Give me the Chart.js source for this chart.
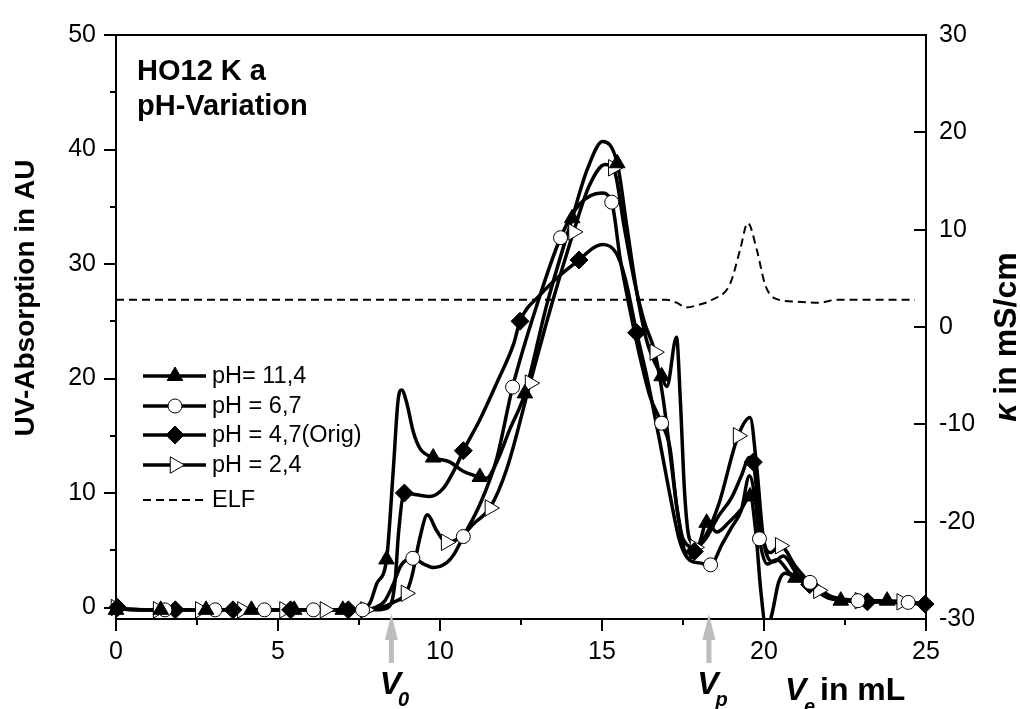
<!DOCTYPE html>
<html>
<head>
<meta charset="utf-8">
<title>HO12 K a pH-Variation</title>
<script src="https://cdn.jsdelivr.net/npm/chart.js@4/dist/chart.umd.min.js"></script>
<style>
    html, body { margin: 0; padding: 0; background: #fff; }
    #wrap { width: 1020px; height: 709px; position: relative; }
</style>
</head>
<body>
<div id="wrap"><canvas id="elutionChart" width="1020" height="709"></canvas></div>
<script>
// Elution profiles (UV absorption, left axis) and conductivity (ELF, right axis).
const xTicks = [0, 5, 10, 15, 20, 25];
const yTicks = [0, 10, 20, 30, 40, 50];
const y2Ticks = [-30, -20, -10, 0, 10, 20, 30];

const seriesLabels = ['pH= 11,4', 'pH = 6,7', 'pH = 4,7(Orig)', 'pH = 2,4'];
const elfLabel = 'ELF';

// [Ve in mL, UV-absorption in AU]
const ph114Curve = [[0, 0.2], [0.3, -0.15], [1.38, -0.2], [2.78, -0.2], [4.18, -0.2], [5.5, -0.2], [7.0, -0.2],
    [7.6, -0.1], [7.84, 0.4], [8.05, 2.1], [8.35, 4.2], [8.56, 12.1], [8.71, 18.2], [8.82, 19.0], [8.97, 17.9],
    [9.18, 15.3], [9.38, 13.9], [9.79, 13.1], [10.31, 12.7], [10.72, 11.9], [11.23, 11.4], [11.44, 11.3],
    [11.75, 12.7], [12.16, 15.6], [12.62, 18.7], [13.3, 26.5], [14.08, 34.0], [14.55, 38.3], [15.02, 40.7],
    [15.47, 38.8], [15.76, 33.4], [16.07, 27.6], [16.38, 23.3], [16.84, 20.2], [17.0, 19.3], [17.3, 23.6],
    [17.42, 18.0], [17.55, 10.0], [17.7, 6.0], [17.95, 5.4], [18.23, 7.4], [18.55, 6.6], [18.9, 7.4],
    [19.3, 8.6], [19.57, 9.7], [19.75, 6.5], [19.9, 1.5], [20.08, -2.0], [20.25, -0.5], [20.45, 2.2],
    [20.65, 3.0], [20.97, 2.6], [21.5, 1.7], [22.37, 0.6], [23.8, 0.6], [25, 0.3]];
const ph114Markers = [[0, -0.2], [1.38, -0.2], [2.78, -0.2], [4.18, -0.2], [5.5, -0.2], [7.0, -0.2], [8.35, 4.2],
    [9.79, 13.1], [11.23, 11.4], [12.62, 18.7], [14.08, 34.0], [15.47, 38.8], [16.84, 20.2], [18.23, 7.4],
    [19.57, 9.7], [20.97, 2.6], [22.37, 0.6], [23.8, 0.6]];

const ph67Curve = [[0, 0.2], [0.3, -0.15], [1.51, -0.2], [3.06, -0.2], [4.58, -0.2], [6.09, -0.2], [7.61, -0.2],
    [8.0, 0.0], [8.3, 0.6], [8.55, 2.0], [8.8, 3.7], [9.16, 4.3], [9.5, 3.8], [9.8, 3.5], [10.2, 3.9],
    [10.42, 4.6], [10.72, 6.2], [11.23, 9.0], [11.75, 13.0], [12.24, 19.25], [13.0, 26.5], [13.72, 32.3],
    [14.3, 35.2], [14.99, 36.2], [15.3, 35.4], [15.56, 30.5], [15.87, 25.9], [16.17, 21.9], [16.48, 18.45],
    [16.84, 16.1], [17.1, 13.9], [17.31, 8.7], [17.62, 4.4], [18.0, 3.9], [18.35, 3.73], [18.7, 5.5],
    [19.0, 7.0], [19.3, 8.5], [19.55, 11.5], [19.75, 9.0], [19.86, 6.0], [20.1, 3.8], [20.4, 4.2],
    [20.8, 3.0], [21.42, 2.2], [22.2, 0.8], [22.9, 0.6], [24.45, 0.45], [25, 0.3]];
const ph67Markers = [[1.51, -0.2], [3.06, -0.2], [4.58, -0.2], [6.09, -0.2], [7.61, -0.2], [9.16, 4.3],
    [10.72, 6.2], [12.24, 19.25], [13.72, 32.3], [15.3, 35.4], [16.84, 16.1], [18.35, 3.73], [19.86, 6.0],
    [21.42, 2.2], [22.9, 0.6], [24.45, 0.45]];

const ph47Curve = [[0, 0.15], [0.3, -0.15], [1.83, -0.2], [3.61, -0.2], [5.39, -0.2], [7.17, -0.2], [8.0, -0.2],
    [8.3, -0.1], [8.5, 0.4], [8.62, 2.5], [8.72, 6.5], [8.9, 10.0], [9.28, 9.85], [9.69, 9.7], [10.1, 10.4],
    [10.51, 12.4], [10.72, 13.7], [11.23, 16.4], [11.75, 19.6], [12.27, 23.0], [12.47, 25.0], [13.09, 27.3],
    [13.7, 29.0], [14.29, 30.35], [14.73, 31.4], [15.02, 31.7], [15.45, 30.9], [15.71, 28.8], [16.07, 24.0],
    [16.38, 20.2], [16.63, 16.7], [16.79, 14.4], [17.1, 9.8], [17.4, 5.8], [17.7, 4.3], [17.85, 4.9],
    [18.2, 6.0], [18.6, 8.0], [19.0, 9.6], [19.3, 11.5], [19.55, 13.1], [19.67, 12.7], [19.85, 8.0],
    [20.1, 4.5], [20.3, 4.0], [20.6, 4.5], [21.0, 3.0], [21.41, 2.0], [22.0, 0.8], [23.19, 0.5], [24.97, 0.3]];
const ph47Markers = [[0.05, 0.0], [1.83, -0.2], [3.61, -0.2], [5.39, -0.2], [7.17, -0.2], [8.9, 10.0],
    [10.72, 13.7], [12.47, 25.0], [14.29, 30.35], [16.07, 24.0], [17.85, 4.9], [19.67, 12.7], [21.41, 2.0],
    [23.19, 0.5], [24.97, 0.3]];

const ph24Curve = [[0, 0.2], [0.3, -0.15], [1.3, -0.2], [2.6, -0.2], [3.9, -0.2], [5.2, -0.2], [6.45, -0.2],
    [7.7, -0.2], [8.2, 0.0], [8.6, 0.5], [8.95, 1.24], [9.13, 2.7], [9.38, 6.1], [9.61, 8.1], [9.9, 6.7],
    [10.19, 5.7], [10.62, 6.1], [11.03, 7.3], [11.54, 8.7], [12.06, 12.1], [12.78, 19.6], [13.4, 26.0],
    [14.12, 32.8], [14.6, 36.8], [15.1, 38.7], [15.35, 38.4], [15.7, 33.0], [16.0, 28.5], [16.3, 25.0],
    [16.63, 22.3], [16.9, 18.0], [17.1, 13.5], [17.3, 9.0], [17.5, 6.0], [17.87, 5.25], [18.2, 6.3],
    [18.6, 9.0], [19.2, 15.0], [19.57, 16.6], [19.77, 12.4], [19.98, 6.1], [20.2, 4.8], [20.5, 5.4],
    [21.0, 3.5], [21.68, 1.5], [22.96, 0.6], [24.25, 0.5], [25, 0.3]];
const ph24Markers = [[0, 0.0], [1.3, -0.2], [2.6, -0.2], [3.9, -0.2], [5.2, -0.2], [6.45, -0.2], [7.7, -0.2],
    [8.95, 1.24], [10.19, 5.7], [11.54, 8.7], [12.78, 19.6], [14.12, 32.8], [15.35, 38.4], [16.63, 22.3],
    [17.87, 5.25], [19.2, 15.0], [20.5, 5.4], [21.68, 1.5], [22.96, 0.6], [24.25, 0.5]];

// [Ve in mL, conductivity in mS/cm]
const elfCurve = [[0, 2.8], [17.0, 2.8], [17.3, 2.5], [17.6, 2.0], [17.9, 2.2], [18.4, 2.8], [18.95, 4.4],
    [19.26, 7.9], [19.5, 10.7], [19.78, 7.9], [20.03, 4.4], [20.3, 3.0], [21.0, 2.6], [21.7, 2.5],
    [22.25, 2.8], [24.66, 2.8]];

// Void volume and permeation volume arrows on the x axis
const volumeMarks = [{ sub: '0', value: 8.5 }, { sub: 'p', value: 18.3 }];

const FONT = "'Liberation Sans', Arial, Helvetica, sans-serif";

const markerStyles = [
    { shape: 'triangle', rotation: 0, radius: 9, fill: '#000' },
    { shape: 'circle', rotation: 0, radius: 7, fill: '#fff' },
    { shape: 'rectRot', rotation: 0, radius: 9, fill: '#000' },
    { shape: 'triangle', rotation: 90, radius: 9.5, fill: '#fff' },
];

function toPoints(pairs) {
    return pairs.map(([x, y]) => ({ x, y }));
}

function lineDataset(pairs) {
    return {
        data: toPoints(pairs),
        borderColor: '#000',
        borderWidth: 3.5,
        pointRadius: 0,
        cubicInterpolationMode: 'monotone',
        fill: false,
        yAxisID: 'y',
        clip: 0,
    };
}

function markerDataset(pairs, style) {
    return {
        data: toPoints(pairs),
        showLine: false,
        pointStyle: style.shape,
        pointRotation: style.rotation,
        pointRadius: style.radius,
        pointBackgroundColor: style.fill,
        pointBorderColor: '#000',
        pointBorderWidth: 1,
        yAxisID: 'y',
        clip: { left: 12, right: 12, top: 0, bottom: 4 },
    };
}

function drawMarker(ctx, style, cx, cy) {
    const r = style.radius;
    ctx.save();
    ctx.fillStyle = style.fill;
    ctx.strokeStyle = '#000';
    ctx.lineWidth = 1;
    ctx.beginPath();
    if (style.shape === 'circle') {
        ctx.arc(cx, cy, r, 0, Math.PI * 2);
    } else if (style.shape === 'rectRot') {
        ctx.moveTo(cx, cy - r);
        ctx.lineTo(cx + r, cy);
        ctx.lineTo(cx, cy + r);
        ctx.lineTo(cx - r, cy);
    } else {
        let a = style.rotation * Math.PI / 180;
        for (let k = 0; k < 3; k++) {
            const px = cx + Math.sin(a) * r;
            const py = cy - Math.cos(a) * r;
            if (k === 0) ctx.moveTo(px, py); else ctx.lineTo(px, py);
            a += Math.PI * 2 / 3;
        }
    }
    ctx.closePath();
    ctx.fill();
    ctx.stroke();
    ctx.restore();
}

function drawArrow(ctx, px, tipY) {
    ctx.save();
    ctx.fillStyle = '#bdbdbd';
    ctx.beginPath();
    ctx.moveTo(px, tipY);
    ctx.lineTo(px + 6.5, tipY + 26);
    ctx.lineTo(px + 2.5, tipY + 26);
    ctx.lineTo(px + 2.5, tipY + 49);
    ctx.lineTo(px - 2.5, tipY + 49);
    ctx.lineTo(px - 2.5, tipY + 26);
    ctx.lineTo(px - 6.5, tipY + 26);
    ctx.closePath();
    ctx.fill();
    ctx.restore();
}

const decorPlugin = {
    id: 'decor',
    afterDraw(chart) {
        const { ctx, chartArea: area, scales } = chart;
        const xs = scales.x;
        const ys = scales.y;
        const ys2 = scales.y2;
        ctx.save();
        ctx.strokeStyle = '#000';
        ctx.lineWidth = 2;
        ctx.strokeRect(area.left, area.top, area.right - area.left, area.bottom - area.top);

        // tick marks: major 12px, minor 6px
        ctx.beginPath();
        for (let v = 0; v <= 25; v += 2.5) {
            const px = Math.round(xs.getPixelForValue(v));
            const len = v % 5 === 0 ? 12 : 6;
            ctx.moveTo(px, area.bottom);
            ctx.lineTo(px, area.bottom + len);
        }
        for (let v = 0; v <= 50; v += 5) {
            const py = Math.round(ys.getPixelForValue(v));
            const len = v % 10 === 0 ? 12 : 6;
            ctx.moveTo(area.left, py);
            ctx.lineTo(area.left - len, py);
        }
        y2Ticks.forEach((v) => {
            const py = Math.round(ys2.getPixelForValue(v));
            ctx.moveTo(area.right, py);
            ctx.lineTo(area.right - 12, py);
        });
        ctx.stroke();

        ctx.fillStyle = '#000';
        ctx.textBaseline = 'alphabetic';

        // sample annotation
        ctx.font = `bold 29px ${FONT}`;
        ctx.textAlign = 'left';
        ctx.fillText('HO12 K a', 137, 80);
        ctx.fillText('pH-Variation', 137, 115);

        // left axis title
        ctx.save();
        ctx.translate(34, 298);
        ctx.rotate(-Math.PI / 2);
        ctx.textAlign = 'center';
        ctx.font = `bold 28px ${FONT}`;
        ctx.fillText('UV-Absorption in AU', 0, 0);
        ctx.restore();

        // right axis title
        ctx.save();
        ctx.translate(1016, 337);
        ctx.rotate(-Math.PI / 2);
        ctx.textAlign = 'left';
        const kappaFont = `italic bold 32px ${FONT}`;
        const restFont = `bold 32px ${FONT}`;
        ctx.font = kappaFont;
        const kw = ctx.measureText('\u03BA').width;
        ctx.font = restFont;
        const rest = ' in mS/cm';
        const rw = ctx.measureText(rest).width;
        const start = -(kw + rw) / 2;
        ctx.font = kappaFont;
        ctx.fillText('\u03BA', start, 0);
        ctx.font = restFont;
        ctx.fillText(rest, start + kw, 0);
        ctx.restore();

        // x axis title
        ctx.font = `italic bold 32px ${FONT}`;
        ctx.fillText('V', 785, 700);
        ctx.font = `italic bold 20px ${FONT}`;
        ctx.fillText('e', 804, 713);
        ctx.font = `bold 32px ${FONT}`;
        ctx.fillText('in mL', 820, 700);

        // V0 / Vp arrows
        volumeMarks.forEach((mark) => {
            const px = xs.getPixelForValue(mark.value);
            drawArrow(ctx, px, 614);
            ctx.font = `italic bold 32px ${FONT}`;
            const vw = ctx.measureText('V').width;
            const left = px - 1 - vw / 2;
            ctx.fillText('V', left, 694);
            ctx.font = `italic bold 20px ${FONT}`;
            ctx.fillText(mark.sub, left + vw - 3, 706);
        });

        // legend
        const rows = [376, 406, 435, 465];
        ctx.font = `23.5px ${FONT}`;
        ctx.textBaseline = 'middle';
        seriesLabels.forEach((label, i) => {
            ctx.beginPath();
            ctx.lineWidth = 3.5;
            ctx.moveTo(143, rows[i]);
            ctx.lineTo(206, rows[i]);
            ctx.stroke();
            drawMarker(ctx, markerStyles[i], 175, rows[i]);
            ctx.fillText(label, 212, rows[i] + 1);
        });
        ctx.beginPath();
        ctx.lineWidth = 2;
        ctx.setLineDash([8, 5]);
        ctx.moveTo(143, 500);
        ctx.lineTo(206, 500);
        ctx.stroke();
        ctx.setLineDash([]);
        ctx.fillText(elfLabel, 212, 501);
        ctx.restore();
    },
};

const tickFont = { family: FONT, size: 25 };

new Chart(document.getElementById('elutionChart'), {
    type: 'line',
    data: {
        datasets: [
            markerDataset(ph114Markers, markerStyles[0]),
            markerDataset(ph67Markers, markerStyles[1]),
            markerDataset(ph47Markers, markerStyles[2]),
            markerDataset(ph24Markers, markerStyles[3]),
            lineDataset(ph114Curve),
            lineDataset(ph67Curve),
            lineDataset(ph47Curve),
            lineDataset(ph24Curve),
            {
                data: toPoints(elfCurve),
                borderColor: '#000',
                borderWidth: 2,
                borderDash: [8, 5],
                pointRadius: 0,
                cubicInterpolationMode: 'monotone',
                fill: false,
                yAxisID: 'y2',
                clip: 0,
            },
        ],
    },
    options: {
        responsive: false,
        animation: false,
        devicePixelRatio: 1,
        events: [],
        layout: { padding: { top: 27, left: 0, right: 0, bottom: 0 } },
        plugins: { legend: { display: false }, tooltip: { enabled: false }, title: { display: false } },
        scales: {
            x: {
                type: 'linear',
                min: 0,
                max: 25,
                afterBuildTicks: (scale) => { scale.ticks = xTicks.map((v) => ({ value: v })); },
                afterFit: (scale) => { scale.height = 90; },
                grid: { display: false, drawTicks: false },
                border: { display: false },
                ticks: { font: tickFont, color: '#000', padding: 18, maxRotation: 0 },
            },
            y: {
                type: 'linear',
                position: 'left',
                min: -1,
                max: 50,
                afterBuildTicks: (scale) => { scale.ticks = yTicks.map((v) => ({ value: v })); },
                afterFit: (scale) => { scale.width = 116; },
                grid: { display: false, drawTicks: false },
                border: { display: false },
                ticks: { font: tickFont, color: '#000', padding: 20 },
            },
            y2: {
                type: 'linear',
                position: 'right',
                min: -30,
                max: 30,
                afterBuildTicks: (scale) => { scale.ticks = y2Ticks.map((v) => ({ value: v })); },
                afterFit: (scale) => { scale.width = 94; },
                grid: { display: false, drawTicks: false },
                border: { display: false },
                ticks: { font: tickFont, color: '#000', padding: 13 },
            },
        },
    },
    plugins: [decorPlugin],
});
</script>
</body>
</html>
